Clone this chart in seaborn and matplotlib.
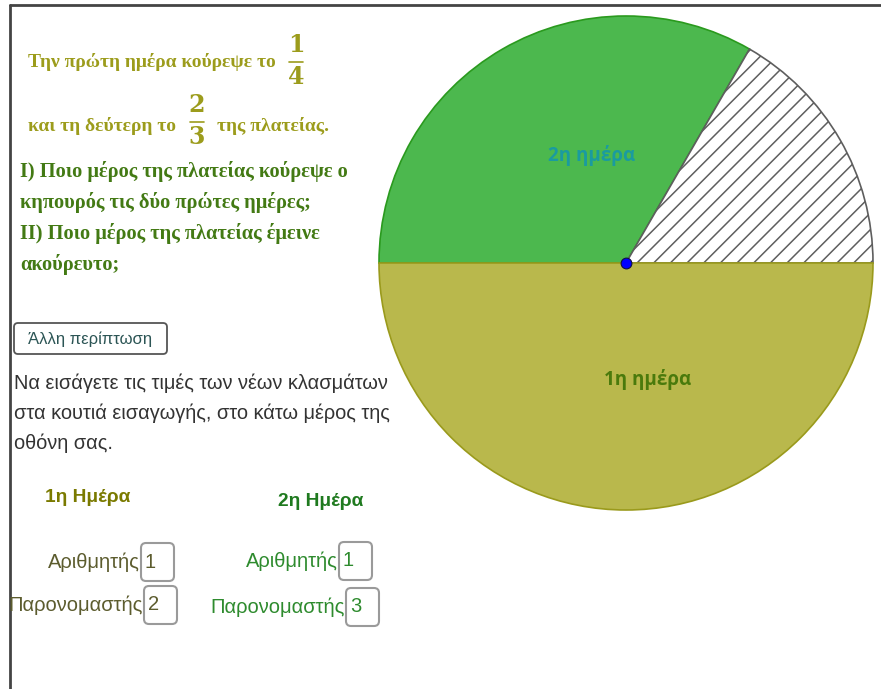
# plot.py
# Pie chart of the part of the square mowed on each day (GeoGebra-style worksheet).

import matplotlib
matplotlib.use("Agg")
import matplotlib.pyplot as plt
from matplotlib.patches import FancyBboxPatch
import seaborn as sns

# Data
day_labels = ["1η ημέρα", "2η ημέρα"]
numerators = [1, 1]
denominators = [2, 3]
day_colors = ["#b9b84c", "#4cb84e"]
day_edges = ["#9a9a1c", "#2a9a1e"]
label_colors = ["#4a7a0c", "#1a9ba0"]

# Fractions quoted in the problem text
text_numerators = [1, 2]
text_denominators = [4, 3]

question_lines = [
    "I) Ποιο μέρος της πλατείας κούρεψε ο",
    "κηπουρός τις δύο πρώτες ημέρες;",
    "II) Ποιο μέρος της πλατείας έμεινε",
    "ακούρευτο;",
]
info_lines = [
    "Να εισάγετε τις τιμές των νέων κλασμάτων",
    "στα κουτιά εισαγωγής, στο κάτω μέρος της",
    "οθόνη σας.",
]

W, H = 881, 689
CENTER = (626, 263)
RADIUS = 247

sns.set_theme(style="white")
plt.rcParams["font.family"] = ["Liberation Sans", "DejaVu Sans"]
plt.rcParams["hatch.linewidth"] = 1.1


def draw_pie(ax):
    day1 = numerators[0] / denominators[0]
    day2 = numerators[1] / denominators[1]
    rest = 1 - day1 - day2
    # y axis is inverted, so the wedge order is mirrored
    wedges, _ = ax.pie([day2, rest, day1], startangle=180, counterclock=True,
                       center=CENTER, radius=RADIUS,
                       colors=[day_colors[1], "white", day_colors[0]],
                       wedgeprops=dict(linewidth=1.2))
    wedges[0].set_edgecolor(day_edges[1])
    wedges[1].set_edgecolor("#5e5e5e")
    wedges[1].set_hatch("//")
    wedges[2].set_edgecolor(day_edges[0])
    ax.scatter([CENTER[0]], [CENTER[1]], s=60, color="#0000ff",
               edgecolor="#101040", linewidth=0.8, zorder=5)
    ax.text(592, 156, day_labels[1], color=label_colors[1], fontsize=13.5,
            fontweight="bold", family=["Open Sans", "DejaVu Sans"],
            ha="center", va="center")
    ax.text(648, 379, day_labels[0], color=label_colors[0], fontsize=13.5,
            fontweight="bold", family=["Open Sans", "DejaVu Sans"],
            ha="center", va="center")


def draw_fraction(ax, x, y, num, den, color):
    kw = dict(color=color, fontsize=17, fontweight="bold",
              family=["DejaVu Serif"], ha="center", va="center")
    ax.text(x, y - 17, str(num), **kw)
    ax.text(x, y + 15, str(den), **kw)
    ax.plot([x - 7, x + 7], [y, y], color=color, linewidth=1.2)


def draw_text_panel(ax):
    olive = "#9c9c1c"
    serif = dict(fontweight="bold", family=["Liberation Serif", "DejaVu Serif"],
                 va="center", fontsize=14)
    ax.text(28, 62, "Την πρώτη ημέρα κούρεψε το", color=olive, **serif)
    draw_fraction(ax, 296, 62, text_numerators[0], text_denominators[0], olive)
    ax.text(28, 126, "και τη δεύτερη το", color=olive, **serif)
    draw_fraction(ax, 197, 122, text_numerators[1], text_denominators[1], olive)
    ax.text(217, 126, "της πλατείας.", color=olive, **serif)

    for i, line in enumerate(question_lines):
        ax.text(20, 172 + i * 30.7, line, color="#437a14",
                **{**serif, "fontsize": 14.7})

    # button
    ax.add_patch(FancyBboxPatch((14, 323), 153, 31,
                                boxstyle="round,pad=0,rounding_size=4",
                                facecolor="white", edgecolor="#555555", linewidth=1.3))
    ax.text(90, 339, "Άλλη περίπτωση", color="#2c5555", fontsize=12,
            ha="center", va="center")

    for i, line in enumerate(info_lines):
        ax.text(14, 383 + i * 30, line, color="#333333", fontsize=14.4, va="center")


def draw_inputs(ax):
    headers = ["1η Ημέρα", "2η Ημέρα"]
    header_xy = [(88, 498), (321, 502)]
    header_colors = ["#7a7a00", "#1f7a1f"]
    field_colors = ["#5c5c2e", "#2e8b2e"]
    # right edge of the label, y of the numerator row and denominator row
    num_pos = [(140, 562), (338, 561)]
    den_pos = [(143, 605), (345, 607)]
    for i in range(2):
        ax.text(*header_xy[i], headers[i], color=header_colors[i], fontsize=13.8,
                fontweight="bold", ha="center", va="center")
        for (x, y), label, val in [(num_pos[i], "Αριθμητής", numerators[i]),
                                    (den_pos[i], "Παρονομαστής", denominators[i])]:
            ax.text(x, y, label, color=field_colors[i], fontsize=14.5,
                    ha="right", va="center")
            ax.add_patch(FancyBboxPatch((x + 1, y - 19), 33, 38,
                                        boxstyle="round,pad=0,rounding_size=5",
                                        facecolor="white", edgecolor="#9a9a9a",
                                        linewidth=1.5))
            ax.text(x + 5, y, str(val), color=field_colors[i], fontsize=14.5,
                    ha="left", va="center")


fig = plt.figure(figsize=(W / 100, H / 100), dpi=100)
ax = fig.add_axes([0, 0, 1, 1])
draw_pie(ax)
draw_text_panel(ax)
draw_inputs(ax)

# applet frame
ax.plot([10, 10], [5, H], color="#444444", linewidth=2)
ax.plot([10, W], [5, 5], color="#444444", linewidth=2)

ax.set_xlim(0, W)
ax.set_ylim(H, 0)
ax.set_aspect("equal")
ax.axis("off")
fig.savefig("out.png", dpi=100, facecolor="white")
